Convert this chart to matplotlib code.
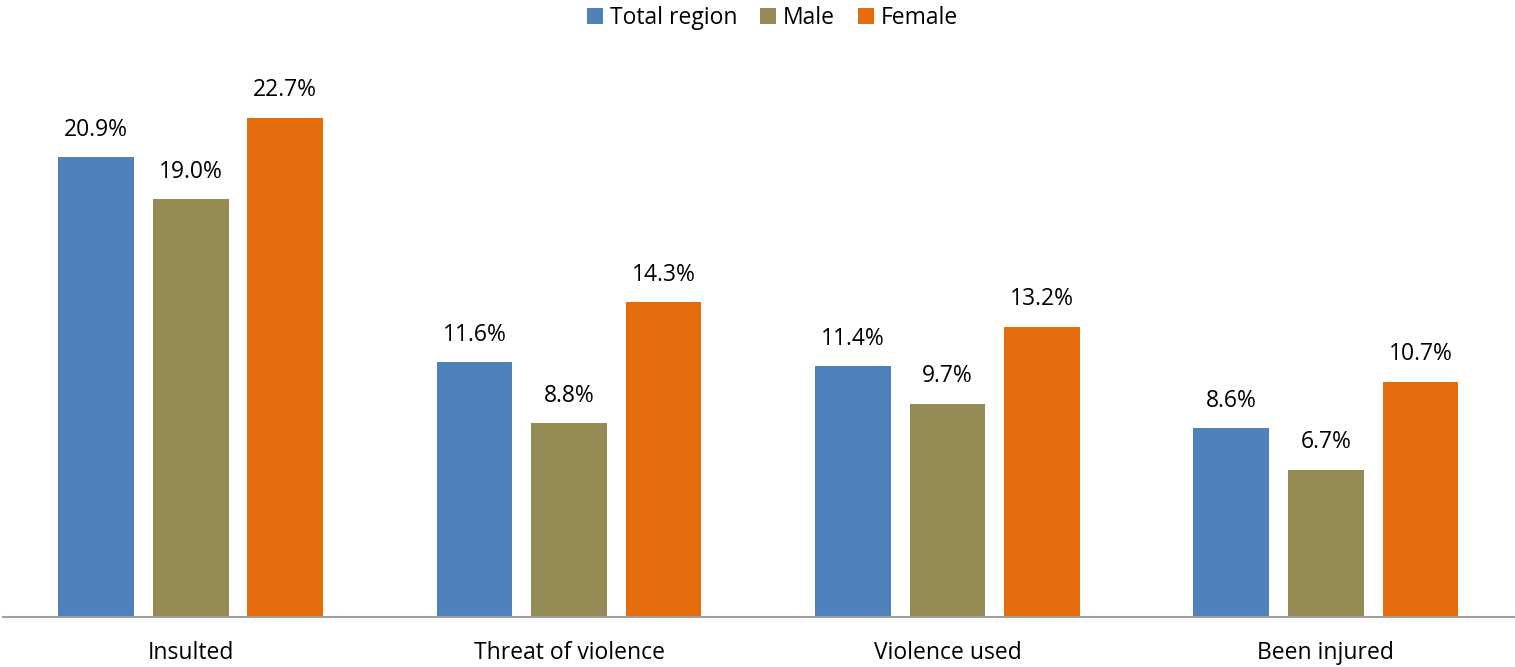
import numpy as np
import matplotlib.pyplot as plt

plt.rcParams['font.family'] = ['Open Sans', 'DejaVu Sans']

# Données
categories = ["Insulted", "Threat of violence", "Violence used", "Been injured"]
series = ["Total region", "Male", "Female"]
total = [20.9, 11.6, 11.4, 8.6]
male = [19.0, 8.8, 9.7, 6.7]
female = [22.7, 14.3, 13.2, 10.7]
colors = ["#4F81BD", "#948A54", "#E46C0A"]

fig = plt.figure(figsize=(15.15, 6.67), dpi=100)
ax = fig.add_axes([3 / 1515, 50 / 667, 1 - 3 / 1515, 550 / 667])

x = np.arange(len(categories))
largeur = 0.2
pas = 0.25
for i, (vals, nom) in enumerate(zip([total, male, female], series)):
    pos = x + (i - 1) * pas
    ax.bar(pos, vals, width=largeur, color=colors[i], label=nom)
    for p, v in zip(pos, vals):
        ax.annotate(f"{v:.1f}%", (p, v), xytext=(0, 11), textcoords="offset points",
                    ha="center", va="bottom", fontsize=16.5)

ax.set_xlim(-0.496, 3.5)
ax.set_ylim(0, 25.0)
ax.set_xticks(x)
ax.set_xticklabels(categories, fontsize=16.5)
ax.tick_params(axis="x", length=0, pad=17)
ax.set_yticks([])
for s in ["top", "right", "left"]:
    ax.spines[s].set_visible(False)
ax.spines["bottom"].set_color("#A0A0A0")
ax.spines["bottom"].set_linewidth(1.5)

fig.legend(loc="upper center", bbox_to_anchor=(0.51, 1.022), ncol=3, frameon=False,
           fontsize=16.5, handlelength=0.7, handleheight=0.7, handletextpad=0.3,
           columnspacing=1.0)

fig.savefig("out.png", dpi=100)
